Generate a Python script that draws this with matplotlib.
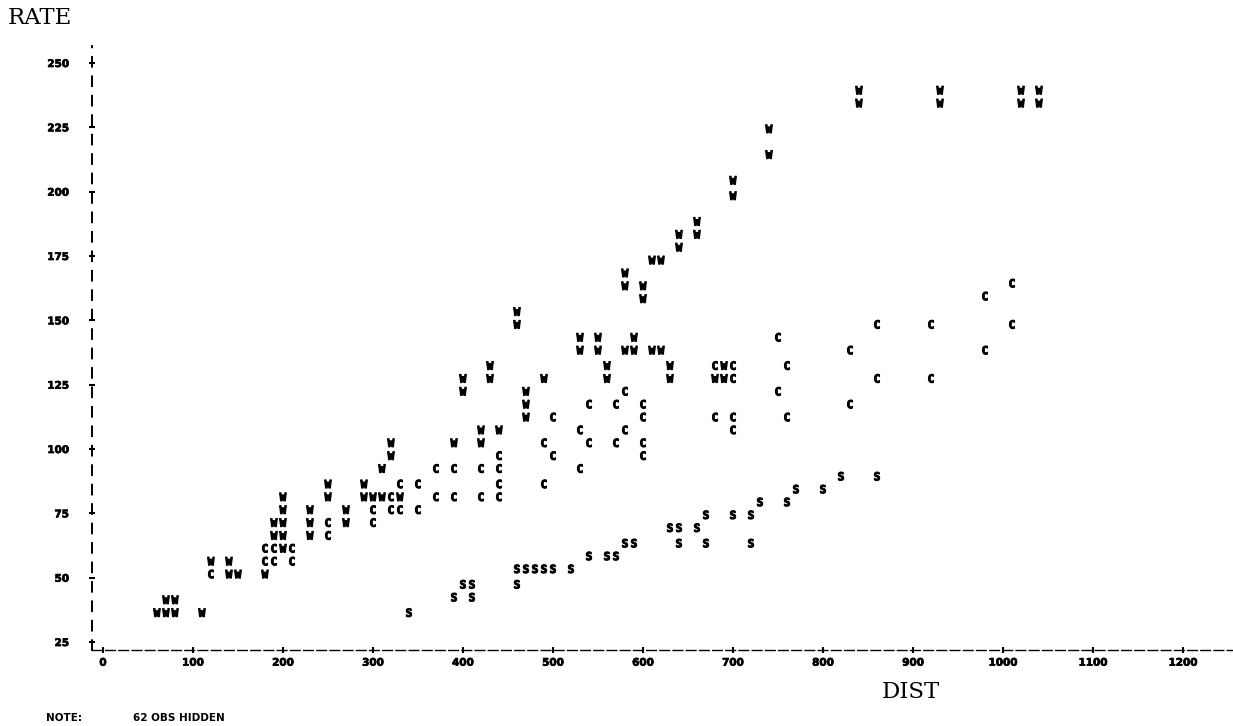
"""PROC PLOT style scatter: RATE against DIST, plotting symbol = W / C / S."""
import matplotlib
matplotlib.use("Agg")
import matplotlib.pyplot as plt
import matplotlib.patheffects as pe

# --- data: rate -> list of distances on that print row ---
W_ROWS = {
    36: [60, 70, 80, 110], 41: [70, 80], 51: [140, 150, 180], 56: [120, 140],
    61: [200], 66: [190, 200, 230], 71: [190, 200, 230, 270], 76: [200, 230, 270],
    81: [200, 250, 290, 300, 310, 330], 86: [250, 290], 92: [310], 97: [320],
    102: [320, 390, 420], 107: [420, 440], 112: [470], 117: [470], 122: [400, 470],
    127: [400, 430, 490, 560, 630, 680, 690], 132: [430, 560, 630, 690],
    138: [530, 550, 580, 590, 610, 620], 143: [530, 550, 590], 148: [460],
    153: [460], 158: [600], 163: [580, 600], 168: [580], 173: [610, 620],
    178: [640], 183: [640, 660], 188: [660], 198: [700], 204: [700], 214: [740],
    224: [740], 234: [840, 930, 1020, 1040], 239: [840, 930, 1020, 1040],
}
C_ROWS = {
    51: [120], 56: [180, 190, 210], 61: [180, 190, 210], 66: [250], 71: [250, 300],
    76: [300, 320, 330, 350], 81: [320, 370, 390, 420, 440], 86: [330, 350, 440, 490],
    92: [370, 390, 420, 440, 530], 97: [440, 500, 600], 102: [490, 540, 570, 600],
    107: [530, 580, 700], 112: [500, 600, 680, 700, 760], 117: [540, 570, 600, 830],
    122: [580, 750], 127: [700, 860, 920], 132: [680, 700, 760], 138: [830, 980],
    143: [750], 148: [860, 920, 1010], 159: [980], 164: [1010],
}
S_ROWS = {
    36: [340], 42: [390, 410], 47: [400, 410, 460], 53: [460, 470, 480, 490, 500, 520],
    58: [540, 560, 570], 63: [580, 590, 640, 670, 720], 69: [630, 640, 660],
    74: [670, 700, 720], 79: [730, 760], 84: [770, 800], 89: [820, 860],
}
Y_TICKS = [25, 50, 75, 100, 125, 150, 175, 200, 225, 250]
X_TICKS = [0, 100, 200, 300, 400, 500, 600, 700, 800, 900, 1000, 1100, 1200]
NOTE = "62 OBS HIDDEN"

W_PX, H_PX = 1233, 726
fig = plt.figure(figsize=(W_PX / 100, H_PX / 100), dpi=100)
# axes box placed in pixels so the printout grid lines up
ax = fig.add_axes([92 / W_PX, 1 - 650 / H_PX, 1140 / W_PX, 604 / H_PX])
ax.set_xlim(-12.2, 1254.4)
ax.set_ylim(21.9, 256.6)

heavy = [pe.withStroke(linewidth=0.8, foreground="black")]
sym = dict(ha="center", va="center", fontsize=8, fontweight="bold",
           family="DejaVu Sans Mono", color="black", path_effects=heavy)
for letter, rows in (("W", W_ROWS), ("C", C_ROWS), ("S", S_ROWS)):
    for rate, dists in rows.items():
        for d in dists:
            ax.text(d, rate, letter, **sym)

for side in ("top", "right"):
    ax.spines[side].set_visible(False)
ax.spines["left"].set_linestyle((0, (5, 5)))
ax.spines["left"].set_linewidth(1.4)
ax.spines["bottom"].set_linestyle((0, (7, 2.5)))
ax.spines["bottom"].set_linewidth(1.0)

ax.set_xticks(X_TICKS)
ax.set_yticks(Y_TICKS)
ax.set_xticklabels([str(v) for v in X_TICKS])
ax.set_yticklabels([str(v) for v in Y_TICKS])
ax.tick_params(axis="both", direction="inout", length=5, width=1.5, color="black")
ax.tick_params(axis="y", pad=14)
ax.tick_params(axis="x", pad=3)
for lab in ax.get_xticklabels() + ax.get_yticklabels():
    lab.set_fontsize(7.5)
    lab.set_fontweight("bold")
    lab.set_family("DejaVu Sans")
    lab.set_path_effects([pe.withStroke(linewidth=0.5, foreground="black")])

lbl = dict(family="DejaVu Serif", fontsize=16.5, color="black")
fig.text(8 / W_PX, 1 - 17.5 / H_PX, "RATE", ha="left", va="center", **lbl)
fig.text(911 / W_PX, 1 - 691.5 / H_PX, "DIST", ha="center", va="center", **lbl)

note = dict(fontsize=7.5, fontweight="bold", family="DejaVu Sans", va="center")
fig.text(46 / W_PX, 1 - 718 / H_PX, "NOTE:", ha="left", **note)
fig.text(133 / W_PX, 1 - 718 / H_PX, NOTE, ha="left", **note)

fig.savefig("out.png", dpi=100, facecolor="white")
